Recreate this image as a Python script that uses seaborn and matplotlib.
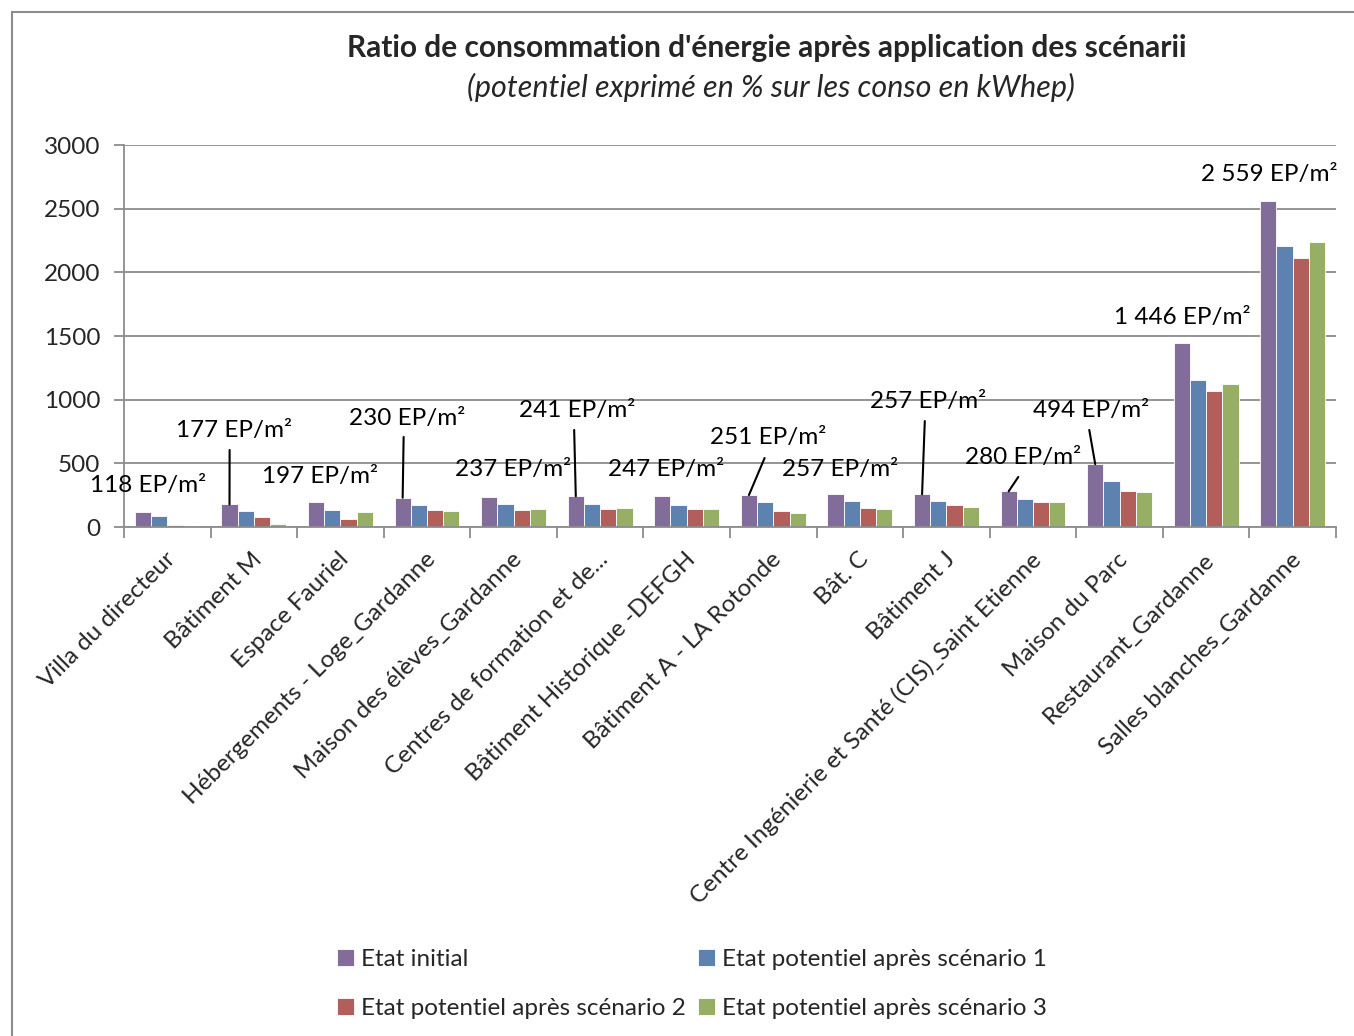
import numpy as np
import pandas as pd
import matplotlib
matplotlib.use("Agg")
import matplotlib.pyplot as plt
import matplotlib.transforms as mtransforms
from matplotlib.patches import Rectangle
import seaborn as sns

categories = ["Villa du directeur", "Bâtiment M", "Espace Fauriel",
              "Hébergements - Loge_Gardanne", "Maison des élèves_Gardanne",
              "Centres de formation et de...", "Bâtiment Historique -DEFGH",
              "Bâtiment A - LA Rotonde", "Bât. C", "Bâtiment J",
              "Centre Ingénierie et Santé (CIS)_Saint Etienne", "Maison du Parc",
              "Restaurant_Gardanne", "Salles blanches_Gardanne"]
series_names = ["Etat initial", "Etat potentiel après scénario 1",
                "Etat potentiel après scénario 2", "Etat potentiel après scénario 3"]
etat_initial = [118, 177, 197, 230, 237, 241, 247, 251, 257, 257, 280, 494, 1446, 2559]
scenario_1 = [84, 123, 136, 173, 180, 181, 176, 199, 202, 202, 222, 362, 1155, 2210]
scenario_2 = [18, 76, 66, 136, 132, 138, 145, 126, 148, 175, 198, 284, 1065, 2112]
scenario_3 = [10, 22, 119, 127, 145, 151, 140, 109, 142, 159, 198, 274, 1122, 2242]
value_labels = ["118 EP/m²", "177 EP/m²", "197 EP/m²", "230 EP/m²", "237 EP/m²",
                "241 EP/m²", "247 EP/m²", "251 EP/m²", "257 EP/m²", "257 EP/m²",
                "280 EP/m²", "494 EP/m²", "1 446 EP/m²", "2 559 EP/m²"]
title = "Ratio de consommation d'énergie après application des scénarii"
subtitle = "(potentiel exprimé en % sur les conso en kWhep)"
colors = ["#8064A2", "#4F81BD", "#C0504D", "#9BBB59"]

# layout of labels (category offset, y position in data units)
label_dx = [-0.22, -0.23, -0.24, -0.23, 0.0, -0.27, -0.24, -0.06, -0.23, -0.21, -0.115, -0.33, -0.27, -0.27]
label_y = [322, 754, 400, 856, 448, 911, 448, 699, 455, 982, 542, 911, 1649, 2772]
# leader lines: (category index, top x offset, top y)
leaders = [(1, -0.28, 605), (3, -0.27, 707), (5, -0.30, 762), (7, -0.10, 542),
           (9, -0.25, 832), (10, -0.17, 393), (11, -0.35, 762)]

rows = []
for s, vals in zip(series_names, [etat_initial, scenario_1, scenario_2, scenario_3]):
    for c, v in zip(categories, vals):
        rows.append({"cat": c, "serie": s, "val": v})
df = pd.DataFrame(rows)

sns.set_theme(style="white")
plt.rcParams["font.family"] = ["Lato", "DejaVu Sans"]

W, H = 1354, 1036
fig = plt.figure(figsize=(W / 100, H / 100), dpi=100)
ax = fig.add_axes([124 / W, 1 - 527 / H, (1336 - 124) / W, (527 - 145) / H])

sns.barplot(data=df, x="cat", y="val", hue="serie", hue_order=series_names,
            palette=colors, width=0.75, ax=ax, edgecolor="white", linewidth=0.6,
            legend=True)

fs = 17.5
ax.set_ylim(0, 3000)
ax.set_xlim(-0.5, len(categories) - 0.5)
ax.set_yticks(np.arange(0, 3001, 500))
ax.yaxis.grid(True, color="#8c8c8c", linewidth=1.3)
ax.set_axisbelow(True)
for s in ["top", "right"]:
    ax.spines[s].set_visible(False)
for s in ["left", "bottom"]:
    ax.spines[s].set_color("#8c8c8c")
    ax.spines[s].set_linewidth(1.3)
ax.set_xlabel("")
ax.set_ylabel("")
ax.tick_params(axis="y", labelsize=fs, length=7, color="#8c8c8c", width=1.3,
               left=True, pad=10)
ax.set_xticks(range(len(categories)))
ax.set_xticklabels(categories, rotation=45, ha="right", va="center",
                   rotation_mode="anchor", fontsize=fs)
ax.tick_params(axis="x", length=0, pad=21)
offset = mtransforms.ScaledTranslation(5 / 100, 0, fig.dpi_scale_trans)
for lab in ax.get_xticklabels():
    lab.set_transform(lab.get_transform() + offset)
ax.set_xticks(np.arange(-0.5, len(categories), 1), minor=True)
ax.tick_params(axis="x", which="minor", length=8, color="#8c8c8c", width=1.3,
               bottom=True)

# value labels
for i, (txt, dx, y) in enumerate(zip(value_labels, label_dx, label_y)):
    ax.text(i + dx, y, txt, ha="center", va="center", fontsize=fs, color="black")
bar_off = -0.75 * 3 / 8
for i, dx, ytop in leaders:
    ax.plot([i + dx, i + bar_off], [ytop, etat_initial[i]], color="black", lw=1.5)

# legend (row-major order like the reference)
leg = ax.get_legend()
handles = leg.legend_handles
leg.remove()
order = [0, 2, 1, 3]
fig.legend([handles[k] for k in order], [series_names[k] for k in order],
           loc="upper left", bbox_to_anchor=(327 / W, 1 - 939 / H),
           ncol=2, frameon=False, fontsize=fs, handlelength=0.7, handleheight=0.7,
           handletextpad=0.3, columnspacing=0.5, labelspacing=1.15,
           borderaxespad=0)

fig.text(767 / W, 1 - 48 / H, title, ha="center", va="center", fontsize=21.5,
         fontweight="bold")
fig.text(771 / W, 1 - 87 / H, subtitle, ha="center", va="center", fontsize=22,
         style="italic")

fig.patches.append(Rectangle((12 / W, -0.1), 1.2, 1 - 12 / H + 0.1, transform=fig.transFigure,
                             fill=False, edgecolor="#8c8c8c", linewidth=1.5))

fig.savefig("out.png", dpi=100, facecolor="white")
